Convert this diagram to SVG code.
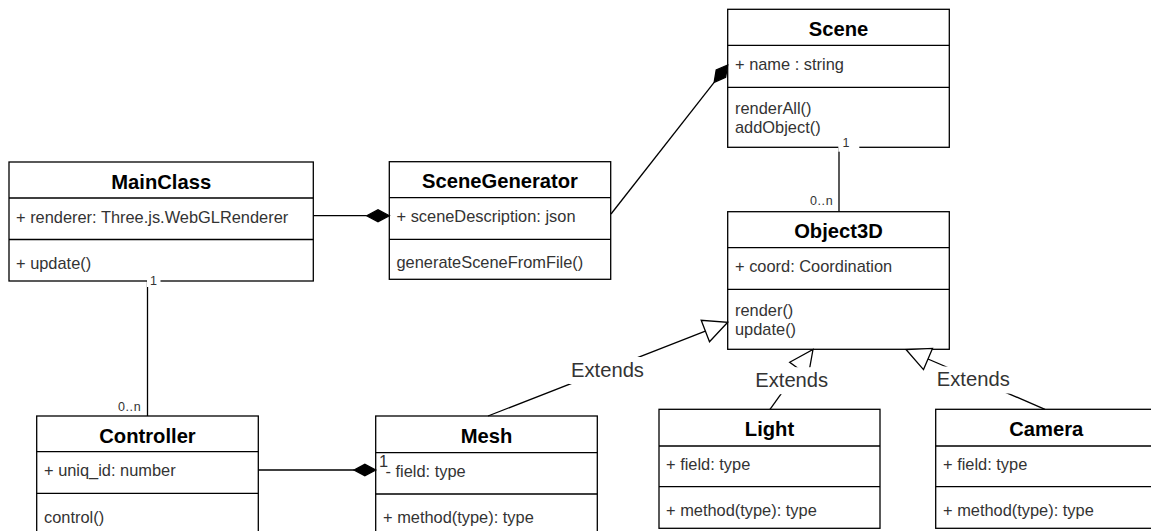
<svg xmlns="http://www.w3.org/2000/svg" width="1151" height="531" viewBox="0 0 1151 531">
<style>
.box{fill:#fff;stroke:#000;stroke-width:1.3}
.sep{stroke:#000;stroke-width:1.3;fill:none}
.t{font-family:"Liberation Sans",Arial,sans-serif;font-weight:bold;font-size:20.2px;text-anchor:middle;fill:#000}
.a{font-family:"Liberation Sans",Arial,sans-serif;font-size:16.4px;fill:#333}
.ln{stroke:#000;stroke-width:1.3;fill:none}
.dia{fill:#000;stroke:#000;stroke-width:1.3;stroke-linejoin:miter}
.tri{fill:#fff;stroke:#000;stroke-width:1.3}
.lbl{font-family:"Liberation Sans",Arial,sans-serif;font-size:20.2px;text-anchor:middle;fill:#333}
.sm{font-family:"Liberation Sans",Arial,sans-serif;font-size:12.5px;fill:#333}
.bg{fill:#fff;stroke:none}
</style>

<g id="MainClass">
<rect class="box" x="9" y="162" width="304.3" height="119"/>
<path class="sep" d="M9,198H313.3M9,239.5H313.3"/>
<text class="t" x="161.2" y="188.5">MainClass</text>
<text class="a" x="16" y="222.5">+ renderer: Three.js.WebGLRenderer</text>
<text class="a" x="16" y="268.5">+ update()</text>
</g>

<g id="SceneGenerator">
<rect class="box" x="389.3" y="161.7" width="221.4" height="117.6"/>
<path class="sep" d="M389.3,197.7H610.7M389.3,239.3H610.7"/>
<text class="t" x="500" y="188.2">SceneGenerator</text>
<text class="a" x="396.5" y="222.2">+ sceneDescription: json</text>
<text class="a" x="396.5" y="268.3">generateSceneFromFile()</text>
</g>

<g id="Scene">
<rect class="box" x="727.7" y="9.3" width="221.6" height="138"/>
<path class="sep" d="M727.7,45.3H949.3M727.7,87.3H949.3"/>
<text class="t" x="838.5" y="35.8">Scene</text>
<text class="a" x="735" y="69.5">+ name : string</text>
<text class="a" x="735" y="114.3">renderAll()</text>
<text class="a" x="735" y="132.6">addObject()</text>
</g>

<g id="Object3D">
<rect class="box" x="727.7" y="211.7" width="221.6" height="137.6"/>
<path class="sep" d="M727.7,247.7H949.3M727.7,289.3H949.3"/>
<text class="t" x="838.5" y="238.2">Object3D</text>
<text class="a" x="735" y="271.9">+ coord: Coordination</text>
<text class="a" x="735" y="316.3">render()</text>
<text class="a" x="735" y="334.6">update()</text>
</g>

<g id="Controller">
<rect class="box" x="36.7" y="416" width="221.6" height="130"/>
<path class="sep" d="M36.7,451.7H258.3M36.7,493.3H258.3"/>
<text class="t" x="147.5" y="442.5">Controller</text>
<text class="a" x="44" y="476">+ uniq_id: number</text>
<text class="a" x="44" y="522.5">control()</text>
</g>

<g id="Mesh">
<rect class="box" x="375.7" y="416" width="221.6" height="130"/>
<path class="sep" d="M375.7,452.7H597.3M375.7,494H597.3"/>
<text class="t" x="486.5" y="443">Mesh</text>
<text class="a" x="385.5" y="476.5">- field: type</text>
<text class="a" x="383" y="523">+ method(type): type</text>
</g>

<g id="Light">
<rect class="box" x="659" y="409.3" width="221" height="119"/>
<path class="sep" d="M659,446H880M659,486.7H880"/>
<text class="t" x="769.5" y="436.3">Light</text>
<text class="a" x="666" y="470">+ field: type</text>
<text class="a" x="666" y="515.5">+ method(type): type</text>
</g>

<g id="Camera">
<rect class="box" x="935.7" y="409.3" width="221" height="119"/>
<path class="sep" d="M935.7,446H1156.7M935.7,486.7H1156.7"/>
<text class="t" x="1046.2" y="436.3">Camera</text>
<text class="a" x="943" y="470">+ field: type</text>
<text class="a" x="943" y="515.5">+ method(type): type</text>
</g>

<g id="connectors">
<path class="ln" d="M313.3,215.7H366.7"/>
<path class="dia" d="M366.7,215.7L378,209.7L389.3,215.7L378,221.7Z"/>
<path class="ln" d="M611,214L714.14,82.31"/>
<path class="dia" d="M727.7,65L725.64,77.36L714.14,82.31L716.2,69.96Z"/>
<path class="ln" d="M147.5,281V416"/>
<path class="ln" d="M839,147.3V211.7"/>
<path class="ln" d="M258.3,470H354"/>
<path class="dia" d="M354,470L364.85,464.3L375.7,470L364.85,475.7Z"/>
<path class="ln" d="M488,416L705.35,331.04"/>
<path class="tri" d="M727.7,322.3L709.5,341.7L701.2,320.3Z"/>
<path class="ln" d="M770,409.3L798.99,368.98"/>
<path class="tri" d="M813,349.5L808.3,375.7L789.7,362.3Z"/>
<path class="ln" d="M1045,409.3L928,359"/>
<path class="tri" d="M906,349.5L923.5,369.6L932.5,348.4Z"/>
</g>

<g id="labels">
<rect class="bg" x="147" y="275.5" width="13.5" height="11.5"/>
<text class="sm" x="150" y="285.3">1</text>
<text class="sm" x="118" y="411" letter-spacing="0.6">0..n</text>
<rect class="bg" x="838.3" y="136.5" width="21" height="15.2"/>
<text class="sm" x="842.5" y="146.5">1</text>
<text class="sm" x="810" y="204.5" letter-spacing="0.6">0..n</text>
<text class="a" x="379" y="467">1</text>
<rect class="bg" x="568.5" y="357" width="78" height="27"/>
<text class="lbl" x="607.5" y="376.5">Extends</text>
<rect class="bg" x="752.7" y="367.2" width="78" height="27"/>
<text class="lbl" x="791.7" y="386.7">Extends</text>
<rect class="bg" x="934.3" y="366.5" width="78" height="27"/>
<text class="lbl" x="973.3" y="386">Extends</text>
</g>
</svg>
